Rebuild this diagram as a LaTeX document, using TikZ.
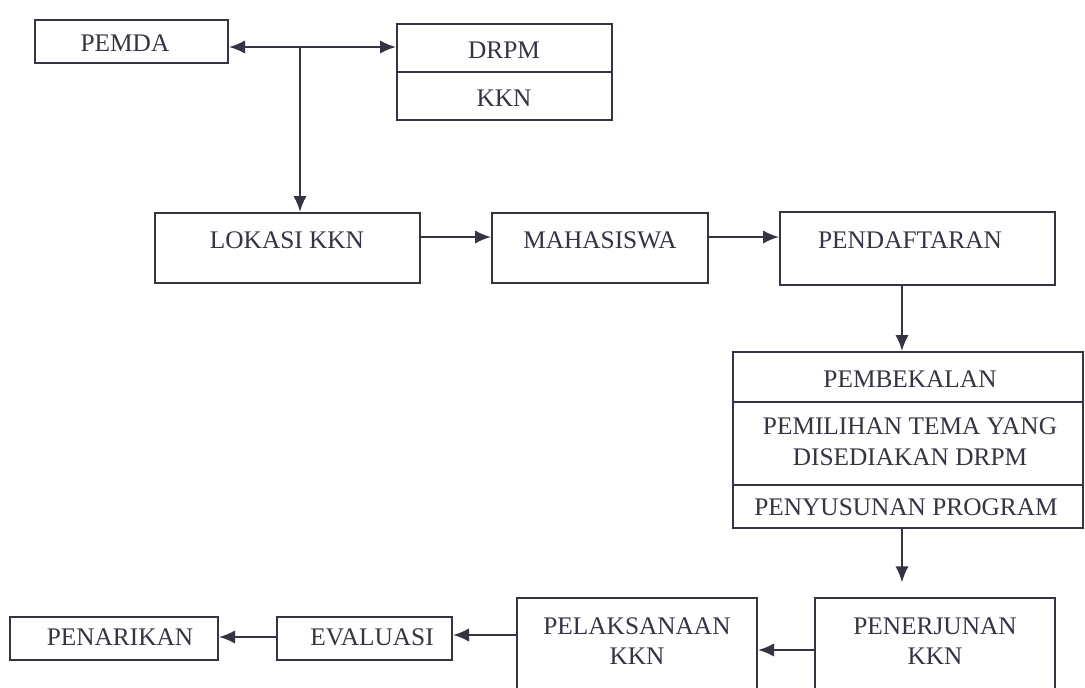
\documentclass[tikz,border=0pt]{standalone}
\usepackage{fontspec}
\setmainfont{Liberation Serif}
\usetikzlibrary{arrows.meta,fit,calc}
\definecolor{ink}{RGB}{52,52,66}
\begin{document}
\begin{tikzpicture}[x=0.75pt,y=-0.75pt,
  box/.style={draw=ink,line width=1.5pt,rectangle,inner sep=0pt,text=ink,font=\fontsize{19}{23}\selectfont,align=center},
  txt/.style={text=ink,font=\fontsize{19}{23}\selectfont,align=center,inner sep=0pt},
  conn/.style={draw=ink,line width=1.5pt},
  arr/.style={conn,-{Latex[length=12pt,width=10pt]}},
  darr/.style={conn,{Latex[length=12pt,width=10pt]}-{Latex[length=12pt,width=10pt]}}]
\useasboundingbox (0,0) rectangle (1085,687);
\clip (0,0) rectangle (1085,687);
\fill[white] (0,0) rectangle (1085,687);
% top
\node[box,fit={(35,20)(228,63)}] (pemda) {};
\node[txt] (pemdaT) at (125,43) {PEMDA};
\node[box,fit={(397,24)(612,72)}] (drpm) {};
\node[txt] (drpmT) at (504,50) {DRPM};
\node[box,fit={(397,72)(612,120)}] (kkn) {};
\node[txt] (kknT) at (504,98) {KKN};
\coordinate (junc) at (300,47);
% middle row
\node[box,fit={(155,213)(420,283)}] (lokasi) {};
\node[txt] (lokasiT) at (287,240) {LOKASI KKN};
\node[box,fit={(492,213)(708,283)}] (maha) {};
\node[txt] (mahaT) at (600,240) {MAHASISWA};
\node[box,fit={(780,212)(1055,285)}] (daftar) {};
\node[txt] (daftarT) at (910,240) {PENDAFTARAN};
\coordinate (row) at (0,237);
% stack
\node[box,fit={(733,352)(1083,528)}] (stack) {};
\coordinate (d1a) at (733,402); \coordinate (d1b) at (1083,402);
\coordinate (d2a) at (733,485); \coordinate (d2b) at (1083,485);
\draw[conn] (d1a) -- (d1b);
\draw[conn] (d2a) -- (d2b);
\node[txt] (bekalT) at (910,379) {PEMBEKALAN};
\node[txt] (temaT) at (910,442) {PEMILIHAN TEMA YANG\\DISEDIAKAN DRPM};
\node[txt] (susunT) at (906,507) {PENYUSUNAN PROGRAM};
\coordinate (vx) at (902,0);
% bottom row
\node[box,fit={(815,598)(1055,705)}] (terjun) {};
\node[txt] (terjunT) at (935,641) {PENERJUNAN\\KKN};
\node[box,fit={(517,598)(757,705)}] (laksana) {};
\node[txt] (laksanaT) at (637,641) {PELAKSANAAN\\KKN};
\node[box,fit={(277,617)(452,660)}] (eval) {};
\node[txt] (evalT) at (372,637) {EVALUASI};
\node[box,fit={(10,617)(218,660)}] (tarik) {};
\node[txt] (tarikT) at (120,637) {PENARIKAN};
% connectors
\draw[darr] (pemda.east |- junc) -- (drpm.west |- junc);
\draw[arr] (junc) -- (lokasi.north -| junc);
\draw[arr] (lokasi.east |- row) -- (maha.west |- row);
\draw[arr] (maha.east |- row) -- (daftar.west |- row);
\draw[arr] (daftar.south -| vx) -- (stack.north -| vx);
\draw[arr,shorten >=11pt] (stack.south -| vx) -- (terjun.north -| vx);
\coordinate (r1) at (0,650);
\draw[arr] (terjun.west |- r1) -- (laksana.east |- r1);
\coordinate (r2) at (0,635);
\draw[arr] (laksana.west |- r2) -- (eval.east |- r2);
\coordinate (r3) at (0,637);
\draw[arr] (eval.west |- r3) -- (tarik.east |- r3);
\end{tikzpicture}
\end{document}
